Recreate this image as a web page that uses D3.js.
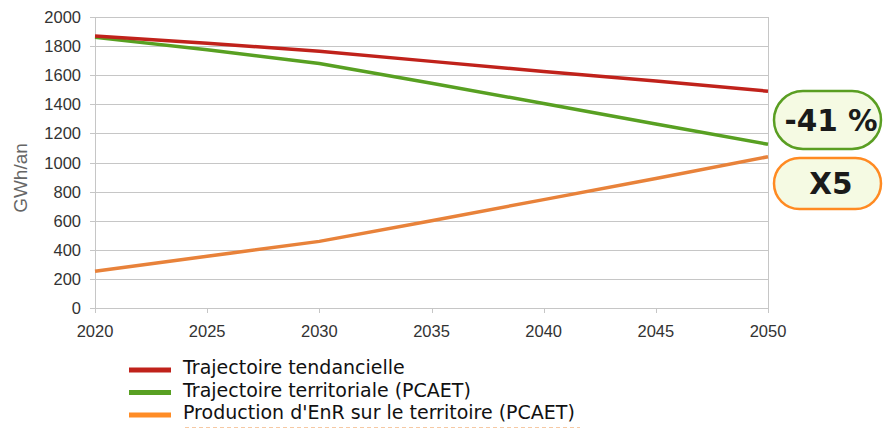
<!DOCTYPE html>
<html>
<head>
<meta charset="utf-8">
<script src="https://cdn.jsdelivr.net/npm/d3@7"></script>
<style>
  body { margin: 0; background: #fff; }
  svg { display: block; }
</style>
</head>
<body>
<div id="chart"></div>
<script>
var years = [2020, 2025, 2030, 2035, 2040, 2045, 2050];
var tendanciel = [1870, 1820, 1765, 1695, 1625, 1560, 1490];
var territoriale = [1860, 1775, 1680, 1545, 1405, 1265, 1125];
var production = [252, 355, 458, 600, 745, 890, 1040];
var yTicks = [0, 200, 400, 600, 800, 1000, 1200, 1400, 1600, 1800, 2000];
var xTicks = [2020, 2025, 2030, 2035, 2040, 2045, 2050];
var seriesNames = ["Trajectoire tendancielle", "Trajectoire territoriale (PCAET)", "Production d'EnR sur le territoire (PCAET)"];
var seriesColors = ["#c0221b", "#58a022", "#e8823a"];
var legendColors = ["#c0221b", "#58a022", "#ff8c26"];
var badgeTexts = ["-41 %", "X5"];

var width = 893, height = 428;
var svg = d3.select("#chart").append("svg")
    .attr("width", width)
    .attr("height", height);

var x = d3.scaleLinear().domain([2020, 2050]).range([95, 768]);
var y = d3.scaleLinear().domain([0, 2000]).range([308, 17]);

// grid
svg.append("g")
    .selectAll("line")
    .data(yTicks)
    .enter()
    .append("line")
    .attr("x1", 90)
    .attr("x2", 768)
    .attr("y1", function(d) { return Math.round(y(d)) + 0.5; })
    .attr("y2", function(d) { return Math.round(y(d)) + 0.5; })
    .attr("stroke", "#c6c6c6")
    .attr("stroke-width", 1);

svg.append("line")
    .attr("x1", 95.5).attr("x2", 95.5)
    .attr("y1", 17).attr("y2", 313)
    .attr("stroke", "#c6c6c6");
svg.append("line")
    .attr("x1", 768.5).attr("x2", 768.5)
    .attr("y1", 17).attr("y2", 313)
    .attr("stroke", "#c6c6c6");

svg.append("g")
    .selectAll("line")
    .data(xTicks)
    .enter()
    .append("line")
    .attr("x1", function(d) { return Math.round(x(d)) + 0.5; })
    .attr("x2", function(d) { return Math.round(x(d)) + 0.5; })
    .attr("y1", 308)
    .attr("y2", 313)
    .attr("stroke", "#c6c6c6");

// tick labels
svg.append("g")
    .selectAll("text")
    .data(yTicks)
    .enter()
    .append("text")
    .attr("x", 81)
    .attr("y", function(d) { return y(d) + 6; })
    .attr("text-anchor", "end")
    .attr("font-family", "Liberation Sans, Arial, sans-serif")
    .attr("font-size", 16.5)
    .attr("fill", "#333")
    .text(function(d) { return d; });

svg.append("g")
    .selectAll("text")
    .data(xTicks)
    .enter()
    .append("text")
    .attr("x", function(d) { return x(d); })
    .attr("y", 337)
    .attr("text-anchor", "middle")
    .attr("font-family", "Liberation Sans, Arial, sans-serif")
    .attr("font-size", 16.5)
    .attr("fill", "#333")
    .text(function(d) { return d; });

svg.append("text")
    .attr("transform", "translate(27,178) rotate(-90)")
    .attr("text-anchor", "middle")
    .attr("font-family", "Liberation Sans, Arial, sans-serif")
    .attr("font-size", 19)
    .attr("fill", "#666")
    .text("GWh/an");

// lines
var allSeries = [tendanciel, territoriale, production];
var line = d3.line()
    .x(function(d, i) { return x(years[i]); })
    .y(function(d) { return y(d); });

svg.append("g")
    .selectAll("path")
    .data([production, territoriale, tendanciel])
    .enter()
    .append("path")
    .attr("d", line)
    .attr("fill", "none")
    .attr("stroke", function(d) { return seriesColors[allSeries.indexOf(d)]; })
    .attr("stroke-width", 3.5);

// badges
var badges = [
    { text: badgeTexts[0], top: 91, h: 58, base: 131, stroke: "#5a9e22" },
    { text: badgeTexts[1], top: 158, h: 51, base: 194, stroke: "#ff8a22" }
];
var badge = svg.append("g")
    .selectAll("g")
    .data(badges)
    .enter()
    .append("g");

badge.append("rect")
    .attr("x", 774)
    .attr("y", function(d) { return d.top; })
    .attr("width", 107)
    .attr("height", function(d) { return d.h; })
    .attr("rx", function(d) { return d.h / 2; })
    .attr("ry", function(d) { return d.h / 2; })
    .attr("fill", "#f5fae3")
    .attr("stroke", function(d) { return d.stroke; })
    .attr("stroke-width", 2.5);

badge.append("text")
    .attr("x", 831)
    .attr("y", function(d) { return d.base; })
    .attr("text-anchor", "middle")
    .attr("font-family", "DejaVu Sans, sans-serif")
    .attr("font-weight", "bold")
    .attr("font-size", 29.5)
    .attr("fill", "#1a1a1a")
    .text(function(d) { return d.text; });

// legend
var legend = svg.append("g")
    .selectAll("g")
    .data(seriesNames)
    .enter()
    .append("g")
    .attr("transform", function(d, i) { return "translate(129," + (370 + i * 22.5) + ")"; });

legend.append("line")
    .attr("x1", 0)
    .attr("x2", 42)
    .attr("stroke", function(d, i) { return legendColors[i]; })
    .attr("stroke-width", 5);

legend.append("text")
    .attr("x", 54)
    .attr("y", 4)
    .attr("font-family", "DejaVu Sans, sans-serif")
    .attr("font-size", 19)
    .attr("fill", "#111")
    .text(function(d) { return d; });

svg.append("line")
    .attr("x1", 185).attr("x2", 580)
    .attr("y1", 427.5).attr("y2", 427.5)
    .attr("stroke", "#f6c9a4")
    .attr("stroke-dasharray", "4,3");
</script>
</body>
</html>
